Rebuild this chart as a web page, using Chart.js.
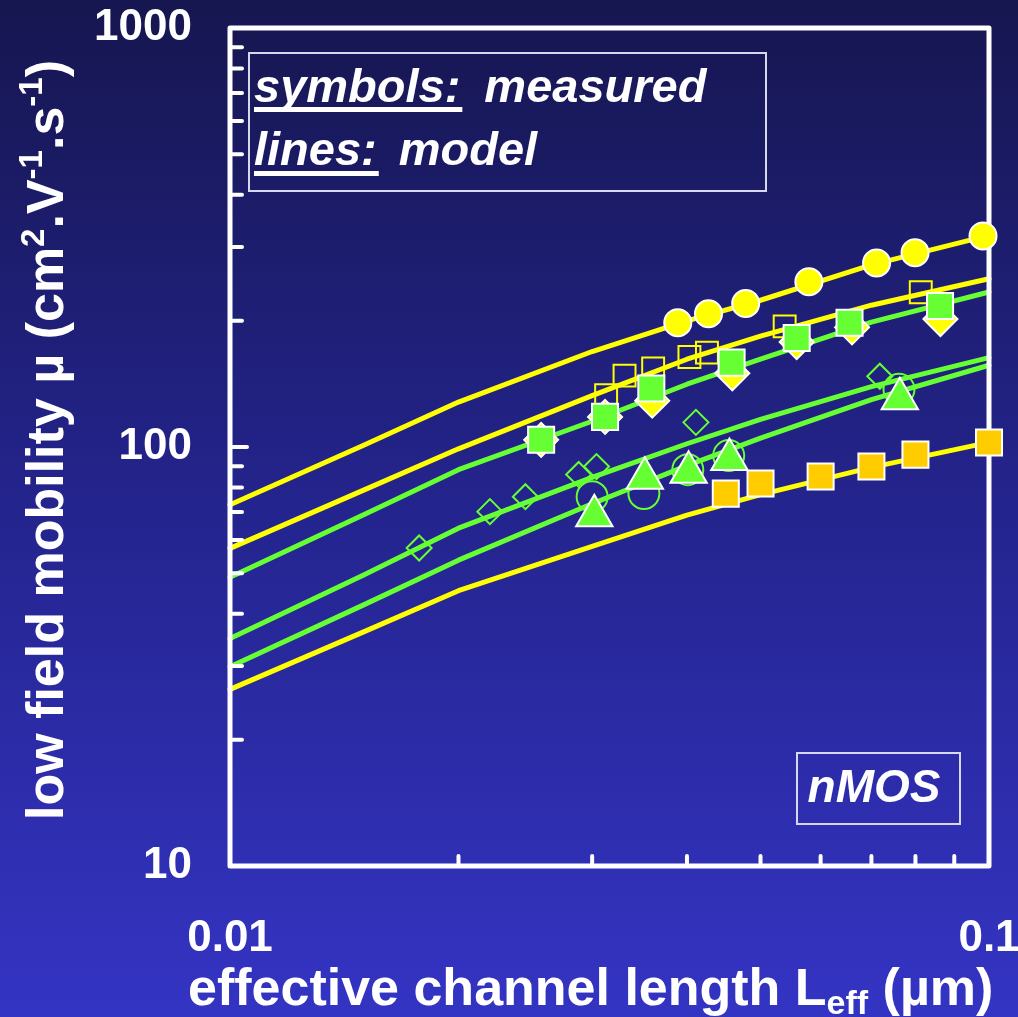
<!DOCTYPE html>
<html>
<head>
<meta charset="utf-8">
<script src="https://cdn.jsdelivr.net/npm/chart.js@4.4.0/dist/chart.umd.min.js"></script>
<style>
  html, body { margin: 0; padding: 0; background: #24248e; overflow: hidden; }
  canvas { display: block; }
</style>
</head>
<body>
<canvas id="mobility" width="1018" height="1017"></canvas>
<script>
// effective channel length (um) -> low field mobility (cm2/Vs)

// model curves
var modelL = [0.01, 0.015, 0.02, 0.03, 0.04, 0.05, 0.07, 0.1, 0.11];
var modelYellowTop = [72.8, 101, 128, 169, 200, 224, 272, 320, 332];
var modelYellowMid = [57.3, 78.9, 99.0, 132.6, 162, 184, 218, 252, 257];
var modelGreenTop = [48.9, 68.9, 88.3, 115.2, 141.2, 162, 198.7, 234.4, 241];
var modelGreenMid = [34.9, 49.5, 64.0, 84.6, 101.8, 116.4, 139.4, 163.4, 169.5];
var modelGreenLow = [29.9, 42.0, 53.7, 73.2, 90.3, 105.0, 129.7, 156.7, 163.5];
var modelYellowLow = [26.4, 36.2, 45.4, 57.9, 68.8, 77.0, 89.4, 102.6, 106];

// measured points
var circleL = [0.0389, 0.0427, 0.0478, 0.0579, 0.0711, 0.0799, 0.0982];
var circleMu = [198, 208, 220, 248, 275, 291, 319];
var openSquareL = [0.0313, 0.0331, 0.0361, 0.0403, 0.0425, 0.0538, 0.0813];
var openSquareMu = [133, 148, 154, 164, 168, 194, 234];
var yDiamondL = [0.0257, 0.0312, 0.0360, 0.0459, 0.0558, 0.0660, 0.0863];
var yDiamondMu = [104, 118, 129, 150, 178, 193, 202];
var gSquareL = [0.0257, 0.0312, 0.0359, 0.0458, 0.0558, 0.0655, 0.0862];
var gSquareMu = [104, 118, 138, 159, 182, 198, 217];
var openDiamondL = [0.01775, 0.0220, 0.0245, 0.0288, 0.0304, 0.0411, 0.0718];
var openDiamondMu = [57.4, 70.1, 76.1, 86.0, 89.8, 114.5, 147.5];
var openCircleL = [0.0300, 0.0351, 0.0401, 0.0454, 0.0761];
var openCircleMu = [76.1, 77.4, 88.3, 95.4, 137.3];
var triangleL = [0.0302, 0.0352, 0.0402, 0.0455, 0.0763];
var triangleMu = [68.5, 84.2, 87.0, 93.3, 130.4];
var orangeL = [0.045, 0.05, 0.06, 0.07, 0.08, 0.1];
var orangeMu = [77.4, 81.8, 85.0, 89.8, 95.9, 102.5];

var xTickLabels = ['0.01', '0.1'];
var yTickLabels = ['10', '100', '1000'];

var YELLOW = '#ffff00';
var GREEN = '#66ff33';
var ORANGE = '#ffcc00';
var FONT = '"Liberation Sans", Arial, Helvetica, sans-serif';

function pts(xs, ys) {
    return xs.map(function (x, i) { return {x: x, y: ys[i]}; });
}

function model(ys, color) {
    return {
        data: pts(modelL, ys), showLine: true, borderColor: color, borderWidth: 5,
        pointRadius: 0, tension: 0, clip: false, order: 10, fill: false,
        borderCapStyle: 'round', borderJoinStyle: 'round'
    };
}

function marker(xs, ys, style, radius, fill, edge, order) {
    return {
        data: pts(xs, ys), showLine: false, pointStyle: style, pointRadius: radius,
        pointBackgroundColor: fill, pointBorderColor: edge, pointBorderWidth: 2,
        clip: false, order: order
    };
}

var datasets = [
    model(modelYellowTop, YELLOW),
    model(modelYellowMid, YELLOW),
    model(modelGreenTop, GREEN),
    model(modelGreenMid, GREEN),
    model(modelGreenLow, GREEN),
    model(modelYellowLow, YELLOW),
    marker(openDiamondL, openDiamondMu, 'rectRot', 12.5, 'rgba(0,0,0,0)', GREEN, 6),
    marker(openCircleL, openCircleMu, 'circle', 15.5, 'rgba(0,0,0,0)', GREEN, 6),
    marker(openSquareL, openSquareMu, 'rect', 15.5, 'rgba(0,0,0,0)', YELLOW, 5),
    marker(yDiamondL, yDiamondMu, 'rectRot', 17, YELLOW, '#ffffff', 4),
    marker(gSquareL, gSquareMu, 'rect', 18.4, GREEN, '#ffffff', 3),
    marker(triangleL, triangleMu, 'triangle', 21, GREEN, '#ffffff', 2),
    marker(circleL, circleMu, 'circle', 13.5, YELLOW, '#ffffff', 2),
    marker(orangeL, orangeMu, 'rect', 18.4, ORANGE, '#ffffff', 2)
];

function isDecade(v) {
    var l = Math.log10(v);
    return Math.abs(l - Math.round(l)) < 1e-6;
}

// 1..9 times a power of ten
function isWhole(v) {
    var m = v / Math.pow(10, Math.floor(Math.log10(v) + 1e-9));
    return Math.abs(m - Math.round(m)) < 1e-6;
}

var background = {
    id: 'background',
    beforeDraw: function (chart) {
        var c = chart.ctx;
        var g = c.createLinearGradient(0, 0, 0, chart.height);
        g.addColorStop(0, '#161650');
        g.addColorStop(0.5, '#24248e');
        g.addColorStop(1, '#3434c4');
        c.save();
        c.fillStyle = g;
        c.fillRect(0, 0, chart.width, chart.height);
        c.restore();
    }
};

// white box with inward ticks, drawn over the model lines but under the symbols
var frame = {
    id: 'frame',
    beforeDatasetsDraw: function (chart) { chart.$frameDone = false; },
    beforeDatasetDraw: function (chart, args) {
        if (chart.$frameDone || chart.data.datasets[args.index].showLine) return;
        chart.$frameDone = true;
        var a = chart.chartArea, c = chart.ctx;
        c.save();
        c.strokeStyle = '#ffffff';
        c.lineCap = 'round';
        c.lineWidth = 4;
        chart.scales.y.ticks.forEach(function (t) {
            if (!isWhole(t.value)) return;
            var py = chart.scales.y.getPixelForValue(t.value);
            var len = isDecade(t.value) ? 17 : 12;
            c.beginPath(); c.moveTo(a.left, py); c.lineTo(a.left + len, py); c.stroke();
        });
        chart.scales.x.ticks.forEach(function (t) {
            if (!isWhole(t.value)) return;
            var px = chart.scales.x.getPixelForValue(t.value);
            c.beginPath(); c.moveTo(px, a.bottom); c.lineTo(px, a.bottom - 10); c.stroke();
        });
        c.lineWidth = 5;
        c.lineJoin = 'round';
        c.strokeRect(a.left, a.top, a.right - a.left, a.bottom - a.top);
        c.restore();
    }
};

function drawRuns(c, runs, x, y, weight) {
    runs.forEach(function (r) {
        c.font = weight + ' ' + r.size + 'px ' + FONT;
        c.fillText(r.text, x, y + (r.dy || 0));
        x += c.measureText(r.text).width;
    });
}

var labels = {
    id: 'labels',
    afterDraw: function (chart) {
        var c = chart.ctx;
        c.save();
        c.fillStyle = '#ffffff';
        c.textBaseline = 'alphabetic';
        c.textAlign = 'left';

        // x title
        drawRuns(c, [
            {text: 'effective channel length L', size: 52},
            {text: 'eff', size: 34, dy: 9},
            {text: ' (\u00b5m)', size: 52}
        ], 188, 1005, 'bold');

        // y title
        c.save();
        c.translate(63, 820);
        c.rotate(-Math.PI / 2);
        drawRuns(c, [
            {text: 'low field mobility \u00b5 (cm', size: 52},
            {text: '2', size: 33, dy: -19},
            {text: '.V', size: 52},
            {text: '-1', size: 33, dy: -21},
            {text: '.s', size: 52},
            {text: '-1', size: 33, dy: -21},
            {text: ')', size: 52}
        ], 0, 0, 'bold');
        c.restore();

        // note box
        c.strokeStyle = '#d8d8ec';
        c.lineWidth = 2;
        c.strokeRect(249, 53, 517, 138);
        c.font = 'italic bold 47px ' + FONT;
        var w1 = c.measureText('symbols:').width;
        c.fillText('symbols:', 254, 102);
        c.fillText('measured', 254 + w1 + 24, 102);
        c.fillRect(254, 107, w1 + 2, 5);
        var w2 = c.measureText('lines:').width;
        c.fillText('lines:', 254, 165);
        c.fillText('model', 254 + w2 + 22, 165);
        c.fillRect(254, 171, w2 + 2, 5);

        // device box
        c.strokeRect(797, 753, 163, 71);
        c.font = 'italic bold 46px ' + FONT;
        c.textAlign = 'center';
        c.fillText('nMOS', 874, 802);
        c.restore();
    }
};

var tickFont = {family: FONT, size: 44, weight: 'bold'};

new Chart(document.getElementById('mobility'), {
    type: 'scatter',
    data: {datasets: datasets},
    options: {
        responsive: false,
        animation: false,
        devicePixelRatio: 1,
        layout: {padding: {top: 28, right: 29, left: 0, bottom: 0}},
        plugins: {legend: {display: false}, tooltip: {enabled: false}},
        scales: {
            x: {
                type: 'logarithmic', min: 0.01, max: 0.1,
                grid: {display: false, drawTicks: false},
                border: {display: false},
                ticks: {
                    autoSkip: false, maxRotation: 0, color: '#ffffff', font: tickFont, padding: 46,
                    callback: function (v) {
                        if (!isDecade(v)) return '';
                        var s = v.toFixed(-Math.round(Math.log10(v)));
                        return xTickLabels.indexOf(s) >= 0 ? s : '';
                    }
                },
                afterFit: function (s) { s.height = 151; s.paddingLeft = 0; s.paddingRight = 0; }
            },
            y: {
                type: 'logarithmic', min: 10, max: 1000,
                grid: {display: false, drawTicks: false},
                border: {display: false},
                ticks: {
                    autoSkip: false, color: '#ffffff', font: tickFont, padding: 38,
                    callback: function (v) {
                        if (!isDecade(v)) return '';
                        var s = String(Math.round(v));
                        return yTickLabels.indexOf(s) >= 0 ? s : '';
                    }
                },
                afterFit: function (s) { s.width = 230; s.paddingTop = 0; s.paddingBottom = 0; }
            }
        }
    },
    plugins: [background, frame, labels]
});
</script>
</body>
</html>
